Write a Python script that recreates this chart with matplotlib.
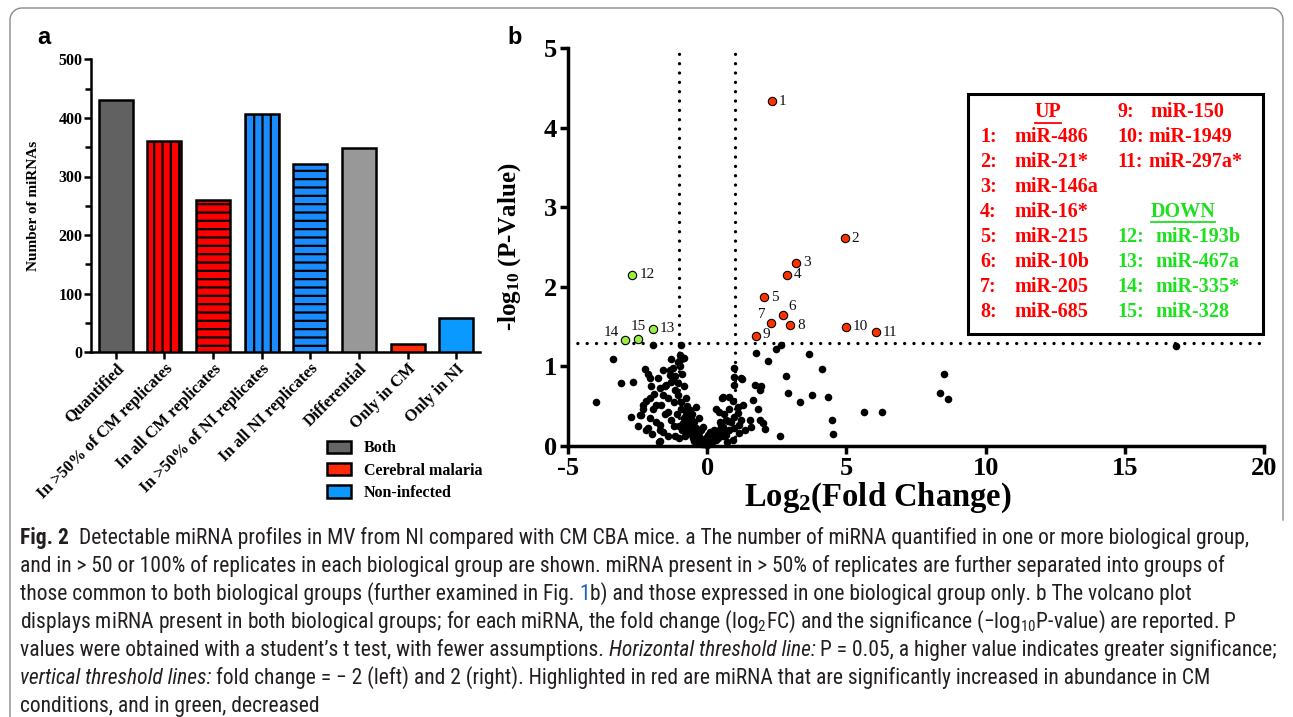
import numpy as np
import matplotlib.pyplot as plt
from matplotlib import font_manager
from matplotlib.patches import Patch, Rectangle
from matplotlib.lines import Line2D
from matplotlib.ticker import MultipleLocator

W, H = 1293, 717

# ---- panel a data ----
categories = ['Quantified', 'In >50% of CM replicates', 'In all CM replicates',
              'In >50% of NI replicates', 'In all NI replicates', 'Differential',
              'Only in CM', 'Only in NI']
counts = [430, 360, 260, 407, 322, 349, 14, 58]
bar_colors = ['#616161', '#ff0000', '#ff0000', '#1a8cff', '#1a8cff', '#989898', '#ff2a0a', '#0a99ff']
bar_hatches = ['', '||', '--', '||', '--', '', '', '']
legend_labels = ['Both', 'Cerebral malaria', 'Non-infected']
legend_colors = ['#666666', '#ff2a0a', '#0a99ff']

# ---- panel b data ----
up_ids = [1, 2, 3, 4, 5, 6, 7, 8, 9, 10, 11]
up_fc = [2.32, 4.94, 3.20, 2.86, 2.05, 2.73, 2.30, 2.99, 1.74, 4.99, 6.07]
up_p = [4.33, 2.61, 2.30, 2.15, 1.87, 1.64, 1.54, 1.52, 1.38, 1.50, 1.43]
up_names = ['miR-486', 'miR-21*', 'miR-146a', 'miR-16*', 'miR-215', 'miR-10b',
            'miR-205', 'miR-685', 'miR-150', 'miR-1949', 'miR-297a*']
down_ids = [12, 13, 14, 15]
down_fc = [-2.69, -1.95, -2.97, -2.49]
down_p = [2.15, 1.47, 1.33, 1.35]
down_names = ['miR-193b', 'miR-467a', 'miR-335*', 'miR-328']

other_fc = [-3.99, -3.39, -3.10, -2.66, -2.73, -1.93, -1.73,
            1.76, 2.18, 2.48, 2.66, 3.67, 4.13, 2.84, 2.92, 3.77, 4.33, 3.35, 4.50, 4.52,
            5.65, 6.27, 8.52, 8.38, 8.64, 2.62, 16.84,
            1.26, 0.98, 1.70, 1.94, 1.91, 1.66, 1.82, 0.54, 0.80, 0.92, 0.32, 0.44, 1.10,
            1.28, 0.98, 1.22, 0.68, 1.52, 1.88, 2.00, 2.06, 1.58, 1.34, 0.98, 1.16, 0.92,
            0.50, 0.26, 0.03, 0.14, 1.22, 0.98, 0.98, 0.74, 0.56, 0.68, 0.56, 0.20, 0.32,
            1.10, 1.16, 0.80,
            -2.25, -2.13, -2.01, -1.77, -1.71, -1.35, -1.29, -0.99, -0.82, -0.99, -1.23,
            -1.05, -1.47, -1.59, -1.05, -0.75, -2.07, -2.31, -1.95, -2.43, -2.07, -2.13,
            -1.71, -1.65, -1.41, -1.29, -1.59, -1.71, -1.17, -0.93, -0.75, -0.39, -0.87,
            -0.69, -0.51, -0.39, -0.22, -0.04, -0.15, -0.28, -0.57,
            -0.93, -0.99, -1.05, -0.87, -1.23, -1.35, -2.07, -1.53, -1.29, -2.19, -1.83,
            -2.31, -2.37, -2.19, -1.71, -1.41, -0.57,
            -0.80, -0.72, -0.62, -0.70, -0.60, -0.55, -0.48, -0.50, -0.45, -0.40, -0.35,
            -0.30, -0.25, -0.20, -0.10, 0.00, 0.08, 0.15, 0.22, 0.30, 0.40, 0.48, 0.58,
            0.05, -0.15, 0.12, 0.25, 0.36, 0.44, -0.65, -0.58, -0.52, -0.46, -0.36, -0.30,
            -0.68, -0.85, -0.90, -0.80, -1.00, 0.62, 0.70, 0.80, 0.85, 0.45, 0.60, 0.10,
            -0.05, -0.55, -0.42, -0.78, -1.10, -1.20, -0.95, -1.15, -0.85, -1.40, -1.85,
            -2.00, -1.50, -1.90, -2.50, -1.20, -1.00, -0.90, -1.60, -1.15]
other_p = [0.55, 1.09, 0.79, 0.80, 0.37, 1.27, 0.05,
           1.17, 1.07, 1.22, 1.27, 1.16, 0.97, 0.88, 0.66, 0.64, 0.62, 0.55, 0.33, 0.15,
           0.43, 0.43, 0.91, 0.66, 0.59, 0.13, 1.25,
           0.84, 0.77, 0.77, 0.75, 0.70, 0.58, 0.47, 0.60, 0.62, 0.56, 0.47, 0.43, 0.49,
           0.52, 0.37, 0.33, 0.33, 0.33, 0.33, 0.29, 0.21, 0.24, 0.20, 0.22, 0.16, 0.08,
           0.26, 0.20, 0.14, 0.08, 0.85, 0.87, 0.98, 0.31, 0.24, 0.14, 0.61, 0.14, 0.18,
           0.41, 0.26, 0.47,
           0.97, 0.90, 0.75, 0.85, 0.73, 0.96, 1.09, 1.08, 1.11, 1.00, 0.85,
           0.79, 0.77, 0.64, 0.64, 0.60, 0.60, 0.52, 0.47, 0.39, 0.35, 0.22,
           0.26, 0.52, 0.43, 0.33, 0.18, 0.06, 0.12, 0.47, 0.39, 0.49, 0.29,
           0.18, 0.24, 0.10, 0.20, 0.10, 0.24, 0.35, 0.35,
           1.27, 1.14, 1.06, 1.10, 0.98, 0.89, 0.85, 0.75, 0.81, 0.56, 0.52,
           0.47, 0.39, 0.20, 0.20, 0.12, 0.29,
           0.45, 0.50, 0.45, 0.40, 0.32, 0.28, 0.30, 0.20, 0.15, 0.12, 0.08,
           0.05, 0.04, 0.03, 0.02, 0.01, 0.03, 0.05, 0.06, 0.08, 0.10, 0.15, 0.12,
           0.06, 0.08, 0.10, 0.12, 0.15, 0.20, 0.22, 0.15, 0.10, 0.06, 0.16, 0.12,
           0.30, 0.35, 0.20, 0.12, 0.25, 0.20, 0.05, 0.20, 0.30, 0.30, 0.40, 0.18,
           0.05, 0.40, 0.22, 0.25, 0.40, 0.55, 0.55, 0.70, 0.75, 0.60, 0.30,
           0.15, 0.40, 0.65, 0.25, 0.25, 0.10, 0.90, 0.95, 0.88]

caption_lines = [
    [("Fig. 2", 'bold', 0), ("Detectable miRNA profiles in MV from NI compared with CM CBA mice. a The number of miRNA quantified in one or more biological group,", 'normal', 2)],
    [("and in > 50 or 100% of replicates in each biological group are shown. miRNA present in > 50% of replicates are further separated into groups of", 'normal', 0)],
    [("those common to both biological groups (further examined in Fig.", 'normal', 0), ("1", 'blue', 1),
     ("b) and those expressed in one biological group only. b The volcano plot", 'normal', 0)],
    [("displays miRNA present in both biological groups; for each miRNA, the fold change (log$_\\mathregular{2}$FC) and the significance (\u2212log$_\\mathregular{10}$P-value) are reported. P", 'normal', 0)],
    [("values were obtained with a student\u2019s t test, with fewer assumptions.", 'normal', 0),
     ("Horizontal threshold line:", 'italic', 1), ("P = 0.05, a higher value indicates greater significance;", 'normal', 1)],
    [("vertical threshold lines:", 'italic', 0),
     ("fold change = \u2212 2 (left) and 2 (right). Highlighted in red are miRNA that are significantly increased in abundance in CM", 'normal', 1)],
    [("conditions, and in green, decreased", 'normal', 0)],
]

# pick a narrow sans for the caption if one is installed
fonts = font_manager.fontManager.ttflist
names = {f.name for f in fonts}
cap_kw = {'family': 'Liberation Sans'}
for cand in ['Liberation Sans Narrow', 'Roboto Condensed', 'Open Sans Condensed', 'Noto Sans Condensed']:
    if cand in names:
        cap_kw = {'family': cand}
        break
else:
    if any(f.name == 'DejaVu Sans' and f.stretch == 'condensed' for f in fonts):
        cap_kw = {'family': 'DejaVu Sans', 'stretch': 'condensed'}

plt.rcParams['font.family'] = ['Liberation Serif', 'DejaVu Serif']
plt.rcParams['font.weight'] = 'bold'
plt.rcParams['axes.labelweight'] = 'bold'
plt.rcParams['axes.unicode_minus'] = False
plt.rcParams['hatch.linewidth'] = 1.6
plt.rcParams['mathtext.default'] = 'regular'

fig = plt.figure(figsize=(W / 100, H / 100), dpi=100)
renderer = fig.canvas.get_renderer()


def fx(px):
    return px / W


def fy(py):
    return 1 - py / H


# frame round the figure
frame_kw = dict(color='#8a8a8a', lw=1.0, transform=fig.transFigure)
r = 12
t = np.linspace(0, np.pi / 2, 20)
fig.add_artist(Line2D([fx(10)] + list(fx(10 + r - r * np.cos(t))) + list(fx(1283 - r + r * np.sin(t))) + [fx(1283)],
                      [fy(717)] + list(fy(8 + r - r * np.sin(t))) + list(fy(8 + r - r * np.cos(t))) + [fy(520)],
                      **frame_kw))

# ---------------- panel a ----------------
ax1 = fig.add_axes([fx(91), fy(352.3), (480 - 91) / W, (352.3 - 59.3) / H])
x = np.arange(len(categories))
bars = ax1.bar(x, counts, width=0.7, color=bar_colors, edgecolor='black', linewidth=1.8, zorder=3)
for b, h in zip(bars, bar_hatches):
    b.set_hatch(h)
ax1.set_xlim(-0.51, 7.49)
ax1.set_ylim(0, 500)
ax1.yaxis.set_major_locator(MultipleLocator(100))
ax1.yaxis.set_minor_locator(MultipleLocator(50))
for s in ['top', 'right']:
    ax1.spines[s].set_visible(False)
for s in ['left', 'bottom']:
    ax1.spines[s].set_linewidth(1.8)
ax1.tick_params(which='major', direction='out', length=5, width=1.8, labelsize=11.5, pad=1)
ax1.tick_params(which='minor', direction='out', length=4, width=1.8)
ax1.set_xticks(x)
ax1.set_xticklabels(categories, rotation=45, ha='right', rotation_mode='anchor', fontsize=12)
ax1.set_ylabel('Number of miRNAs', fontsize=11)
ax1.yaxis.set_label_coords(-0.13, 0.5)
handles = [Patch(facecolor=c, edgecolor='black', linewidth=1.8) for c in legend_colors]
ax1.legend(handles, legend_labels, loc='upper left', bbox_to_anchor=(fx(313), fy(426)),
           bbox_transform=fig.transFigure, frameon=False, fontsize=11.5,
           handlelength=1.5, handleheight=0.8, labelspacing=0.4, handletextpad=0.8)
fig.text(fx(37), fy(38), 'a', family='Liberation Sans', fontsize=17, weight='bold', va='center')

# ---------------- panel b ----------------
ax2 = fig.add_axes([fx(568), fy(446), (1264 - 568) / W, (446 - 48) / H])
ax2.set_xlim(-5, 20)
ax2.set_ylim(0, 5)
dot_kw = dict(color='black', lw=2.4, linestyle=(0, (0.001, 2.8)), dash_capstyle='round', zorder=2)
ax2.axhline(1.3, **dot_kw)
ax2.axvline(-1, **dot_kw)
ax2.axvline(1, **dot_kw)
ax2.scatter(other_fc, other_p, s=30, c='black', lw=0, zorder=3, clip_on=False)
ax2.scatter(up_fc, up_p, s=36, c='#ff3300', edgecolors='black', linewidths=0.8, zorder=4)
ax2.scatter(down_fc, down_p, s=36, c='#99ee44', edgecolors='black', linewidths=0.8, zorder=4)

offsets = {7: (-4, 2, 'right', 'bottom'), 6: (4, 2, 'left', 'bottom'), 14: (-4, 1, 'right', 'bottom'),
           15: (0, 4, 'center', 'bottom'), 9: (5, 1, 'left', 'center')}
for i, xv, yv in zip(up_ids + down_ids, up_fc + down_fc, up_p + down_p):
    dx, dy, ha, va = offsets.get(i, (5, 0, 'left', 'center'))
    ax2.annotate(str(i), (xv, yv), xytext=(dx, dy), textcoords='offset points', ha=ha, va=va,
                 fontsize=11, weight='normal', color='#111111')

for s in ['top', 'right']:
    ax2.spines[s].set_visible(False)
for s in ['left', 'bottom']:
    ax2.spines[s].set_linewidth(2.5)
    ax2.spines[s].set_zorder(5)
ax2.set_xticks([-5, 0, 5, 10, 15, 20])
ax2.set_yticks([0, 1, 2, 3, 4, 5])
ax2.tick_params(direction='out', length=6, width=2.5, labelsize=19, pad=2)
ax2.set_ylabel(r'-log$_\mathregular{10}$ (P-Value)', fontsize=18)
ax2.yaxis.set_label_coords(-0.065, 0.5)
ax2.set_xlabel(r'Log$_\mathregular{2}$(Fold Change)', fontsize=23.5)
ax2.xaxis.set_label_coords(0.445, -0.088)
fig.text(fx(507), fy(38), 'b', family='Liberation Sans', fontsize=17, weight='bold', va='center')

# key box
fig.add_artist(Rectangle((fx(968), fy(334)), (1263 - 968) / W, (334 - 94) / H, transform=fig.transFigure,
                         facecolor='white', edgecolor='black', lw=2.2, zorder=6))
red, green = '#ff0000', '#1fe01f'
rows = [112.3, 136.7, 161.7, 187.3, 211.7, 236.7, 261.7, 286.7, 312.3]
key_kw = dict(fontsize=14.5, weight='bold', va='center', zorder=7)


def underline(txt, color):
    bb = txt.get_window_extent(renderer)
    fig.add_artist(Line2D([bb.x0 / W, bb.x1 / W], [bb.y0 / H - 0.001] * 2, color=color, lw=1.3,
                          transform=fig.transFigure, zorder=7))


up_t = fig.text(fx(1048), fy(rows[0]), 'UP', color=red, ha='center', **key_kw)
underline(up_t, red)
for k in range(8):
    fig.text(fx(980), fy(rows[k + 1]), f'{up_ids[k]}:', color=red, **key_kw)
    fig.text(fx(1014), fy(rows[k + 1]), up_names[k], color=red, **key_kw)
for k in range(8, 11):
    fig.text(fx(1117), fy(rows[k - 8]), f'{up_ids[k]}:', color=red, **key_kw)
    fig.text(fx(1150) if k == 8 else fx(1148), fy(rows[k - 8]), up_names[k], color=red, **key_kw)
dn_t = fig.text(fx(1183), fy(rows[4]), 'DOWN', color=green, ha='center', **key_kw)
underline(dn_t, green)
for k in range(4):
    fig.text(fx(1117), fy(rows[k + 5]), f'{down_ids[k]}:', color=green, **key_kw)
    fig.text(fx(1155), fy(rows[k + 5]), down_names[k], color=green, **key_kw)

# ---------------- caption ----------------
def draw_caption(size, keep=True):
    tmp1 = fig.text(0, 0, 'a a', fontsize=size, weight='normal', **cap_kw)
    tmp2 = fig.text(0, 0, 'aa', fontsize=size, weight='normal', **cap_kw)
    space = tmp1.get_window_extent(renderer).width - tmp2.get_window_extent(renderer).width
    tmp1.remove()
    tmp2.remove()
    made = []
    ends = []
    for n, line in enumerate(caption_lines):
        xp = 20
        for text, style, gap in line:
            xp += gap * space
            kw = dict(fontsize=size, weight='normal', color='#231f20', va='baseline', **cap_kw)
            if style == 'bold':
                kw['weight'] = 'bold'
            elif style == 'italic':
                kw['style'] = 'italic'
            elif style == 'blue':
                kw['color'] = '#1f5fbf'
            tt = fig.text(fx(xp), fy(544 + 28 * n), text, **kw)
            made.append(tt)
            xp = tt.get_window_extent(renderer).x1
        ends.append(xp)
    if not keep:
        for tt in made:
            tt.remove()
    return max(ends)


widest = draw_caption(14.0, keep=False)
cap_size = 14.0 * (1286 - 20) / (widest - 20)
draw_caption(min(cap_size, 16.5))

fig.savefig('out.png', dpi=100)
